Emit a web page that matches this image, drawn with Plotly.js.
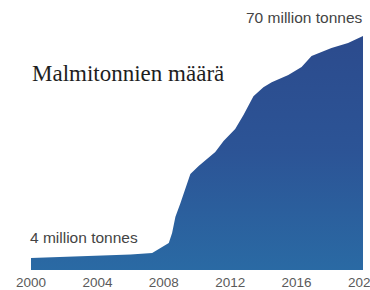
<!DOCTYPE html>
<html>
<head>
<meta charset="utf-8">
<script src="https://cdn.plot.ly/plotly-3.0.1.min.js"></script>
<style>html,body{margin:0;padding:0;background:#fff;}#chart{width:370px;height:290px;}</style>
</head>
<body>
<div id="chart"></div>
<script>
// Ore tonnes mined (million tonnes)
const years = [2000.0, 2002.0, 2004.1, 2006.0, 2007.3, 2007.6, 2008.0, 2008.3, 2008.5, 2008.7,
               2009.0, 2009.3, 2009.6, 2010.1, 2011.1, 2011.6, 2012.3, 2012.8, 2013.4, 2014.0,
               2014.5, 2015.5, 2016.3, 2016.9, 2018.1, 2019.1, 2020.0];
const tonnes = [3.6, 3.9, 4.2, 4.6, 5.1, 6.0, 7.2, 8.1, 11.1, 15.9,
                20.0, 24.5, 28.7, 31.1, 35.3, 38.6, 42.2, 46.4, 52.0, 54.7,
                56.2, 58.3, 60.7, 64.0, 66.4, 67.9, 70.0];
const tickYears = [2000, 2004, 2008, 2012, 2016, 2020];
const tickLabels = ["2000", "2004", "2008", "2012", "2016", "2020"];
const titleText = "Malmitonnien määrä";
const startLabel = "4 million tonnes";
const endLabel = "70 million tonnes";

const trace = {
  x: years, y: tonnes, type: 'scatter', mode: 'lines',
  line: {width: 0, color: '#2c4c8e'},
  fill: 'tozeroy',
  fillgradient: {type: 'vertical', colorscale: [[0, '#2a6aa4'], [0.5, '#2c5496'], [1, '#2c4b8d']]},
  hoverinfo: 'skip'
};

const layout = {
  width: 370, height: 290,
  margin: {l: 31, r: 7, t: 36, b: 20},
  paper_bgcolor: '#fff', plot_bgcolor: '#fff',
  showlegend: false,
  title: {text: titleText, x: 32/370, xanchor: 'left', xref: 'container',
          y: 1 - 73/290, yanchor: 'middle', yref: 'container',
          font: {family: 'Liberation Serif, Times New Roman, serif', size: 23, color: '#1e1e1e'}},
  xaxis: {range: [2000, 2020], tickvals: tickYears, ticktext: tickLabels,
          showgrid: false, zeroline: false, showline: false, ticks: '',
          tickfont: {family: 'Liberation Sans, Arial, sans-serif', size: 13.5, color: '#5a5a5a'},
          ticklabelstandoff: 2, ticklabeloverflow: 'allow',
          automargin: false, fixedrange: true},
  yaxis: {range: [0, 70], visible: false, fixedrange: true, automargin: false},
  annotations: [
    {text: endLabel, xref: 'paper', yref: 'paper', x: 1.005, xanchor: 'right',
     y: 1 + (36 - 17) / 234, yanchor: 'middle', showarrow: false,
     font: {family: 'Liberation Sans, Arial, sans-serif', size: 15.5, color: '#444'}},
    {text: startLabel, xref: 'paper', yref: 'paper', x: -3/332, xanchor: 'left',
     y: (270 - 237) / 234, yanchor: 'middle', showarrow: false,
     font: {family: 'Liberation Sans, Arial, sans-serif', size: 15.5, color: '#444'}}
  ]
};

Plotly.newPlot('chart', [trace], layout, {displayModeBar: false, staticPlot: true});
</script>
</body>
</html>
